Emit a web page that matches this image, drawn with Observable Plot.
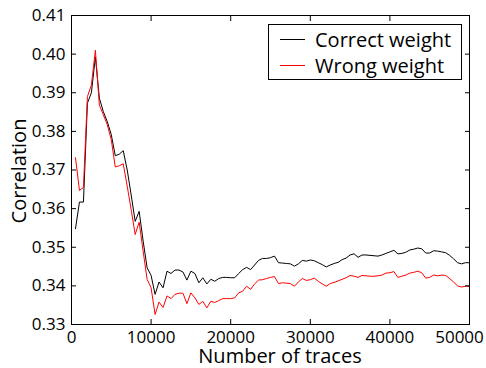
<!DOCTYPE html>
<html><head><meta charset="utf-8">
<script src="https://cdn.jsdelivr.net/npm/d3@7"></script>
<script src="https://cdn.jsdelivr.net/npm/@observablehq/plot@0.6"></script>
<style>
html,body{margin:0;padding:0;background:#fff;}
#wrap{position:relative;width:486px;height:368px;font-family:"Open Sans",sans-serif;color:#000;}
#wrap svg{display:block;}
.title{position:absolute;white-space:nowrap;font-size:20px;line-height:16px;height:16px;}
#xt{left:280px;top:348px;transform:translateX(-50%);}
#yt{left:19px;top:171px;transform:translate(-50%,-50%) rotate(-90deg);}
#legend{position:absolute;left:268px;top:24px;width:194px;height:56px;border:1px solid #000;background:#fff;box-sizing:border-box;font-size:20px;}
.row{position:absolute;left:0;height:26px;display:flex;align-items:center;}
.sw{width:25px;height:0;border-top:1px solid;margin-left:11px;margin-right:10px;}
</style>
</head><body>
<div id="wrap"></div>
<script>
const traces = [500,1000,1500,2000,2500,3000,3500,4000,4500,5000,5500,6000,6500,7000,7500,8000,8500,9000,9500,10000,
10500,11000,11500,12000,12500,13000,13500,14000,14500,15000,15500,16000,16500,17000,17500,18000,18500,19000,19500,20000,
20500,21000,21500,22000,22500,23000,23500,24000,24500,25000,25500,26000,26500,27000,27500,28000,28500,29000,29500,30000,
30500,31000,31500,32000,32500,33000,33500,34000,34500,35000,35500,36000,36500,37000,37500,38000,38500,39000,39500,40000,
40500,41000,41500,42000,42500,43000,43500,44000,44500,45000,45500,46000,46500,47000,47500,48000,48500,49000,49500,50000];
const correctWeight = [0.3548,0.3617,0.3617,0.3873,0.3900,0.3993,0.3886,0.3851,0.3825,0.3791,0.3737,0.3741,0.3750,0.3700,0.3635,0.3567,0.3593,0.3516,0.3447,0.3427,
0.3378,0.3410,0.3395,0.3438,0.3432,0.3441,0.3441,0.3436,0.3415,0.3438,0.3432,0.3408,0.3421,0.3405,0.3417,0.3412,0.3419,0.3422,0.3422,0.3421,
0.3421,0.3432,0.3442,0.3448,0.3442,0.3454,0.3466,0.3471,0.3471,0.3473,0.3477,0.3460,0.3459,0.3458,0.3457,0.3451,0.3457,0.3466,0.3464,0.3467,
0.3465,0.3460,0.3455,0.3449,0.3454,0.3458,0.3461,0.3468,0.3472,0.3480,0.3483,0.3474,0.3480,0.3480,0.3479,0.3478,0.3477,0.3480,0.3484,0.3488,
0.3492,0.3483,0.3484,0.3487,0.3493,0.3495,0.3498,0.3496,0.3485,0.3485,0.3491,0.3490,0.3488,0.3486,0.3479,0.3470,0.3460,0.3457,0.3460,0.3460];
const wrongWeight = [0.3732,0.3647,0.3655,0.3890,0.3920,0.4010,0.3868,0.3843,0.3817,0.3778,0.3708,0.3711,0.3716,0.3658,0.3597,0.3533,0.3565,0.3490,0.3417,0.3395,
0.3326,0.3358,0.3344,0.3374,0.3367,0.3378,0.3381,0.3381,0.3354,0.3382,0.3369,0.3352,0.3360,0.3343,0.3360,0.3357,0.3362,0.3367,0.3367,0.3367,
0.3369,0.3382,0.3386,0.3399,0.3391,0.3405,0.3415,0.3416,0.3419,0.3422,0.3424,0.3406,0.3408,0.3407,0.3406,0.3399,0.3410,0.3419,0.3414,0.3416,
0.3420,0.3412,0.3405,0.3399,0.3406,0.3409,0.3413,0.3417,0.3421,0.3427,0.3425,0.3422,0.3427,0.3426,0.3425,0.3425,0.3426,0.3428,0.3433,0.3434,
0.3437,0.3422,0.3425,0.3428,0.3433,0.3435,0.3438,0.3434,0.3420,0.3422,0.3428,0.3426,0.3428,0.3427,0.3419,0.3410,0.3400,0.3397,0.3399,0.3399];
const xTicks = [0,10000,20000,30000,40000,50000];
const yTicks = [0.33,0.34,0.35,0.36,0.37,0.38,0.39,0.40,0.41];
const seriesNames = ["Correct weight","Wrong weight"];
const seriesColors = ["#000000","#ff0000"];
const xTitle = "Number of traces";
const yTitle = "Correlation";

const rowsC = traces.map((t,i)=>({t, v: correctWeight[i]}));
const rowsW = traces.map((t,i)=>({t, v: wrongWeight[i]}));

const blank = () => "";
const chart = Plot.plot({
  width: 486, height: 368,
  marginLeft: 71, marginRight: 17, marginTop: 15, marginBottom: 44,
  style: {fontFamily: "'Open Sans', sans-serif", fontSize: "17px", color: "#000", background: "#fff", overflow: "visible"},
  x: {domain: [0, 50000], label: null},
  y: {domain: [0.33, 0.41], label: null},
  marks: [
    Plot.line(rowsC, {x: "t", y: "v", stroke: seriesColors[0], strokeWidth: 1}),
    Plot.line(rowsW, {x: "t", y: "v", stroke: seriesColors[1], strokeWidth: 1}),
    Plot.axisX(xTicks.slice(0, -1), {anchor: "bottom", tickSize: 0, tickPadding: 6, tickFormat: d => String(d), label: null, fontSize: 17}),
    Plot.axisX(xTicks.slice(-1), {anchor: "bottom", tickSize: 0, tickPadding: 6, dx: -10, tickFormat: d => String(d), label: null, fontSize: 17}),
    Plot.axisY(yTicks, {anchor: "left", tickSize: 0, tickPadding: 6, tickFormat: d => d.toFixed(2), label: null, fontSize: 17}),
    Plot.axisX(xTicks, {anchor: "bottom", tickSize: -5, tickFormat: blank, label: null}),
    Plot.axisX(xTicks, {anchor: "top", tickSize: -5, tickFormat: blank, label: null}),
    Plot.axisY(yTicks, {anchor: "left", tickSize: -5, tickFormat: blank, label: null}),
    Plot.axisY(yTicks, {anchor: "right", tickSize: -5, tickFormat: blank, label: null}),
    Plot.frame({stroke: "#000", strokeWidth: 1})
  ]
});
const wrap = document.getElementById("wrap");
wrap.appendChild(chart);

const xt = document.createElement("div"); xt.className = "title"; xt.id = "xt"; xt.textContent = xTitle; wrap.appendChild(xt);
const yt = document.createElement("div"); yt.className = "title"; yt.id = "yt"; yt.textContent = yTitle; wrap.appendChild(yt);

const lg = document.createElement("div"); lg.id = "legend";
seriesNames.forEach((n,i)=>{
  const r = document.createElement("div"); r.className = "row"; r.style.top = (1 + i*26) + "px";
  const sw = document.createElement("div"); sw.className = "sw"; sw.style.borderTopColor = seriesColors[i];
  const tx = document.createElement("span"); tx.textContent = n;
  r.appendChild(sw); r.appendChild(tx); lg.appendChild(r);
});
wrap.appendChild(lg);
</script>
</body></html>
